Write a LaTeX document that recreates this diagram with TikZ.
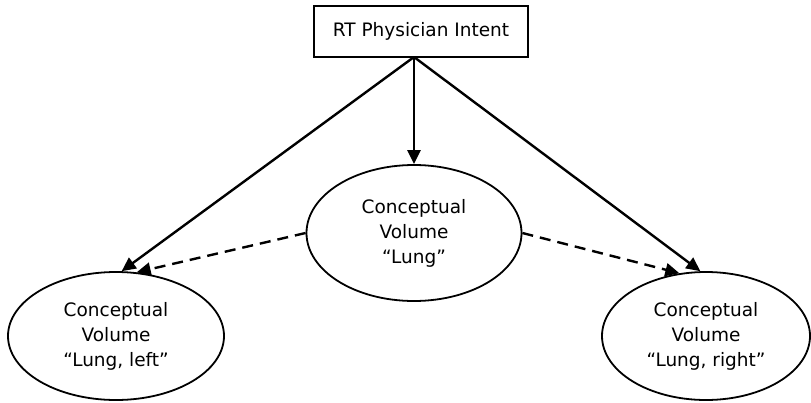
\documentclass[tikz,border=0pt]{standalone}
\usepackage{fontspec}
\setmainfont{DejaVu Sans}
\usetikzlibrary{shapes.geometric,arrows.meta}
\begin{document}
\begin{tikzpicture}[x=1pt,y=-1pt,
  lbl/.style={font=\fontsize{18.5}{25}\selectfont, align=center, text=black},
  vol/.style={lbl, ellipse, draw, line width=1.8pt, inner sep=0pt},
  topbox/.style={lbl, rectangle, draw, line width=1.8pt, minimum width=214pt, minimum height=51pt, inner sep=0pt},
  solidarr/.style={line width=2.4pt, -{Triangle[length=14pt,width=13pt]}},
  dasharr/.style={line width=2.4pt, dash pattern=on 11pt off 7pt, -{Triangle[length=14pt,width=13pt]}}]
\useasboundingbox (0,0) rectangle (811,402);
\node[topbox] (top) at (421,31.5) {RT Physician Intent};
\coordinate (o) at (414,57);
\node[vol, minimum width=215pt, minimum height=136pt] (C) at (414,233) {Conceptual\\Volume\\“Lung”};
\node[vol, minimum width=216pt, minimum height=128pt] (L) at (116,336) {Conceptual\\Volume\\“Lung, left”};
\node[vol, minimum width=208pt, minimum height=128pt] (R) at (706,336) {Conceptual\\Volume\\“Lung, right”};
\draw[solidarr] (o) -- (C.north);
\draw[solidarr] (o) -- (L.85);
\draw[solidarr] (o) -- (R.95);
\draw[dasharr] (C.west) -- (L.72);
\draw[dasharr] (C.east) -- (R.113);
\end{tikzpicture}
\end{document}
